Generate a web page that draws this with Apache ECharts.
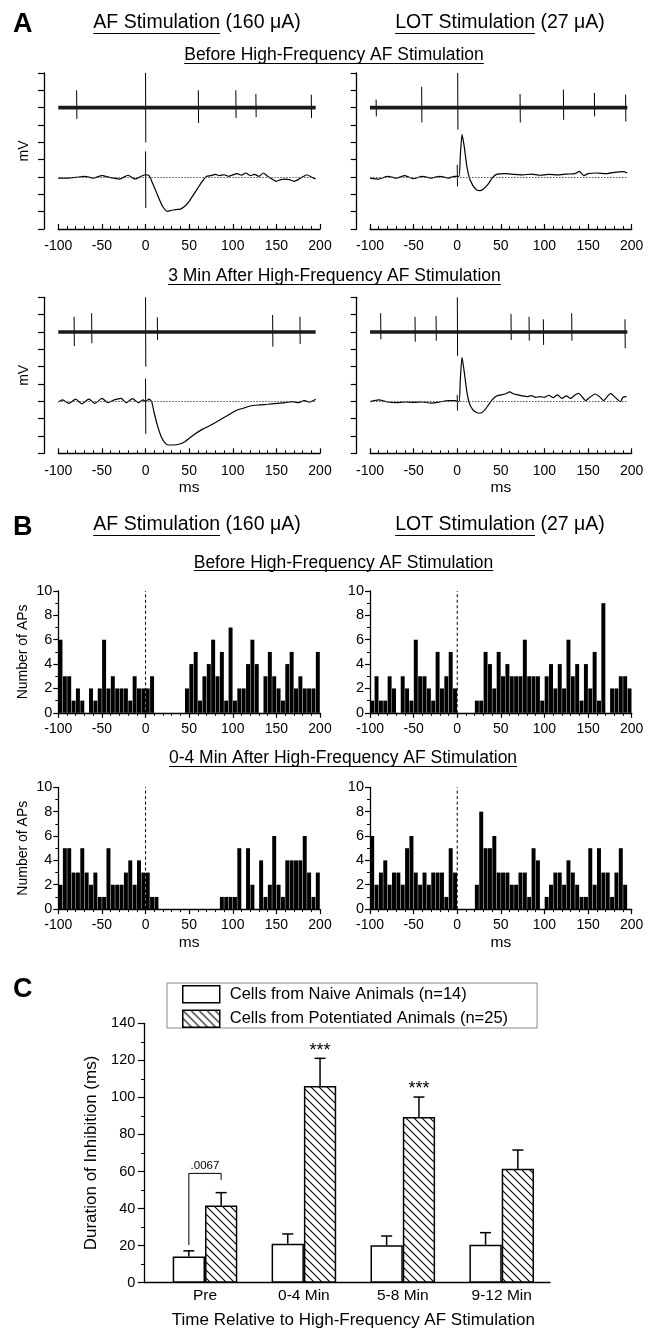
<!DOCTYPE html>
<html>
<head>
<meta charset="utf-8">
<title>Figure</title>
<script src="https://cdn.jsdelivr.net/npm/echarts@6.0.0/dist/echarts.min.js"></script>
<style>
html,body{margin:0;padding:0;background:#fff;}
#chart{width:658px;height:1331px;}
</style>
</head>
<body>
<div id="chart"></div>
<script>
const FONT = '"Liberation Sans", Arial, Helvetica, sans-serif';

// ===== Panel A: traces (time in ms, vertical position in axis tick units) =====
const afBeforeSlow = [[-100,2.94],[-90,2.94],[-80,2.98],[-70,3.04],[-60,2.94],[-50,3.08],[-40,2.96],[-30,2.88],[-20,3.1],[-12,2.88],[-5,3.04],[0,3.13],[4,3.08],[8,2.65],[12,2.17],[16,1.69],[20,1.27],[25,1.02],[30,1.08],[35,1.12],[40,1.15],[45,1.31],[50,1.6],[55,1.98],[60,2.37],[65,2.75],[70,3.04],[75,3.08],[80,3.15],[85,3.08],[90,3.13],[95,3.04],[100,3.12],[105,3.19],[110,3.1],[115,3.23],[120,3.08],[125,3.15],[130,3.04],[135,3.23],[140,3.04],[145,2.88],[150,2.75],[155,2.85],[160,2.88],[165,2.85],[170,2.75],[175,2.85],[180,3.0],[185,3.13],[190,3.0],[195,2.88]];
const lotBeforeSlow = [[-100,2.94],[-90,2.88],[-80,3.04],[-70,2.94],[-60,3.08],[-50,2.9],[-40,3.04],[-30,2.94],[-20,3.04],[-10,2.94],[-3,3.04],[2,3.04],[3.5,4.19],[5.5,5.44],[8,4.77],[11,3.62],[14,2.94],[18,2.5],[22,2.27],[26,2.21],[30,2.31],[35,2.56],[40,2.94],[45,3.15],[55,3.19],[65,3.15],[75,3.12],[85,3.17],[95,3.1],[105,3.15],[115,3.12],[125,3.17],[135,3.19],[140,3.33],[145,3.08],[150,3.19],[160,3.23],[170,3.19],[180,3.27],[190,3.31],[195,3.23]];
const afAfterSlow = [[-100,2.96],[-95,3.08],[-88,2.88],[-80,3.12],[-73,2.85],[-65,3.12],[-58,2.88],[-50,3.17],[-43,2.92],[-36,3.08],[-28,3.17],[-22,2.92],[-15,3.15],[-8,2.92],[-3,3.08],[0,2.98],[4,3.12],[7,2.98],[10,2.31],[14,1.54],[18,0.96],[22,0.62],[26,0.48],[32,0.48],[38,0.52],[45,0.67],[55,1.06],[65,1.38],[75,1.63],[85,1.92],[95,2.21],[105,2.5],[112,2.6],[120,2.73],[130,2.79],[140,2.83],[150,2.88],[160,2.92],[168,2.98],[175,2.92],[182,3.04],[188,2.96],[195,3.12]];
const lotAfterSlow = [[-100,2.98],[-90,3.08],[-80,2.96],[-70,2.92],[-60,2.96],[-50,2.94],[-40,2.96],[-30,2.9],[-20,2.96],[-10,3.04],[-3,3.04],[2,2.98],[3.5,4.23],[5.5,5.54],[8,4.71],[11,3.56],[14,2.88],[18,2.5],[22,2.35],[26,2.31],[30,2.42],[35,2.73],[40,3.08],[45,3.31],[50,3.37],[55,3.42],[60,3.54],[65,3.42],[70,3.37],[75,3.31],[80,3.27],[85,3.33],[90,3.23],[95,3.27],[100,3.23],[105,3.35],[110,3.21],[115,3.37],[120,3.17],[125,3.31],[130,3.17],[135,3.37],[139,3.46],[143,3.27],[147,3.04],[152,3.23],[158,3.42],[163,3.27],[168,3.04],[172,3.27],[176,3.46],[181,3.23],[187,2.98],[190,3.23],[194,3.27]];
// spikes on the fast (upper) trace: [time, peak, trough]
const afBeforeSpikes = [[-79,8.0,6.35],[60.5,8.0,6.12],[103.5,8.0,6.4],[126.5,7.79,6.46],[190,7.75,6.4]];
const lotBeforeSpikes = [[-93,7.46,6.5],[-40.8,8.2,6.15],[72,7.79,6.15],[121.7,8.04,6.3],[157.2,7.85,6.5],[193,7.75,6.2]];
const afAfterSpikes = [[-81.9,7.88,6.19],[-61.8,8.08,6.35],[13.5,7.85,6.54],[145.7,7.98,6.15],[177,7.88,6.31]];
const lotAfterSpikes = [[-87.8,8.08,6.58],[-48.4,7.88,6.44],[-24.3,7.92,6.5],[61.6,8.04,6.54],[82.3,7.88,6.5],[98.7,7.73,6.25],[131.2,8.08,6.5],[192.3,7.73,6.06]];
// stimulus artifacts: [time, top, bottom]
const afBeforeArtifacts = [[0,9.0,5.0],[0,4.48,1.21]];
const lotBeforeArtifacts = [[0.5,9.0,5.73],[0,3.7,2.46]];
const afAfterArtifacts = [[0,9.0,5.0],[0,4.31,1.12]];
const lotAfterArtifacts = [[0.1,9.0,5.62],[0,3.37,2.46]];
const fastTraceLevel = 7;
const slowTraceLevel = 3;
const traceSpan = [-100, 195];

// ===== Panel B: peri-stimulus histograms (5 ms bins from -100 to 200) =====
const binStart = -100;
const binWidth = 5;
const afBeforeCounts = [6,3,3,1,2,1,0,2,1,2,6,2,3,2,2,2,1,3,2,2,2,3,0,0,0,0,0,0,0,2,4,5,1,3,4,6,3,5,1,7,1,2,2,4,6,4,0,3,5,3,2,1,4,5,2,3,2,2,2,5];
const lotBeforeCounts = [1,3,1,1,3,2,0,3,2,1,6,3,3,2,1,5,2,3,5,2,0,0,0,0,1,1,5,4,2,5,3,4,3,3,3,6,3,3,3,1,3,4,2,4,2,6,3,4,1,4,2,5,1,9,0,2,2,3,3,2];
const afAfterCounts = [2,5,5,3,3,5,3,2,3,1,1,5,2,2,2,3,4,2,4,3,3,1,1,0,0,0,0,0,0,0,0,0,0,0,0,0,0,1,1,1,1,5,0,5,2,0,4,1,2,6,2,1,4,4,4,4,6,3,1,3];
const lotAfterCounts = [6,2,3,4,2,3,3,2,5,6,3,2,3,2,3,3,3,1,5,3,0,0,0,0,2,8,5,5,6,3,3,3,2,2,3,3,1,5,4,0,1,2,3,3,2,4,3,2,1,1,5,2,5,3,3,1,3,5,2,0];
const stimMarker = [[0,0],[0,10]];

// ===== Panel C: duration of inhibition =====
const periods = ['Pre','0-4 Min','5-8 Min','9-12 Min'];
const naiveName = 'Cells from Naive Animals (n=14)';
const potName = 'Cells from Potentiated Animals (n=25)';
const naiveMean = [14.2,21.0,20.2,20.5];
const naiveSem = [3.0,5.3,5.0,6.5];
const potMean = [41.7,106.2,89.4,61.5];
const potSem = [6.9,14.9,10.8,10.1];
const potSig = ['','***','***',''];
const bracketLevels = [20.3, 59, 55.4];   // left foot, top, right foot
const bracketText = '.0067';
const bracketTextLevel = 63;

// ===== layout =====
const A_W = 261.7, A_H = 156;
const B_W = 261.7, B_H = 121.8;
const gridsPos = [
  {left:58.3, top:73, width:A_W, height:A_H},
  {left:370, top:73, width:A_W, height:A_H},
  {left:58.3, top:297.3, width:A_W, height:A_H},
  {left:370, top:297.3, width:A_W, height:A_H},
  {left:58.3, top:591, width:B_W, height:B_H},
  {left:370, top:591, width:B_W, height:B_H},
  {left:58.3, top:787.3, width:B_W, height:B_H},
  {left:370, top:787.3, width:B_W, height:B_H},
  {left:155.55, top:1023.3, width:395.6, height:259.4},
  {left:144.3, top:1023.3, width:405.7, height:259.4}
];
const BAR_W = 32.3;
const CAP = 11;

const mctx = document.createElement('canvas').getContext('2d');
function tw(t, size, weight){ mctx.font = (weight || 'normal') + ' ' + size + 'px "Liberation Sans"'; return mctx.measureText(t).width; }

const black = '#000';
const xAxes = [], yAxes = [], series = [];

function timeXAxis(g, inside, margin, showName){
  return {
    gridIndex:g, type:'value', min:-100, max:200, interval:50,
    axisLine:{show:true, onZero:false, lineStyle:{color:black, width:1.3}},
    axisTick:{show:true, inside:inside, length:5, lineStyle:{color:black, width:1.2}},
    minorTick:{show:true, splitNumber:5, length:3, lineStyle:{color:black, width:1}},
    axisLabel:{show:true, color:black, fontSize:14, fontFamily:FONT, margin:margin},
    splitLine:{show:false}, minorSplitLine:{show:false},
    name: showName ? 'ms' : '', nameLocation:'middle', nameGap:26,
    nameTextStyle:{color:black, fontSize:15.5, fontFamily:FONT}
  };
}

// Panel A axes
const aOffsets = [14.3, 13.3, 14.3, 13.3];
for (let g = 0; g < 4; g++) {
  xAxes.push(timeXAxis(g, true, 10.5, g >= 2));
  yAxes.push({
    gridIndex:g, type:'value', min:0, max:9, interval:1, offset:aOffsets[g],
    axisLine:{show:true, onZero:false, lineStyle:{color:black, width:1.3}},
    axisTick:{show:true, length:6, lineStyle:{color:black, width:1.2}},
    axisLabel:{show:false}, splitLine:{show:false},
    name: (g % 2 === 0) ? 'mV' : '', nameLocation:'middle', nameGap:13,
    nameTextStyle:{color:black, fontSize:14, fontFamily:FONT}
  });
}
// Panel B axes
for (let g = 4; g < 8; g++) {
  xAxes.push(timeXAxis(g, false, 9, g >= 6));
  yAxes.push({
    gridIndex:g, type:'value', min:0, max:10, interval:2,
    axisLine:{show:true, onZero:false, lineStyle:{color:black, width:1.3}},
    axisTick:{show:true, length:5, lineStyle:{color:black, width:1.2}},
    minorTick:{show:true, splitNumber:2, length:3, lineStyle:{color:black, width:1}},
    axisLabel:{show:true, color:black, fontSize:14.5, fontFamily:FONT, margin:6},
    splitLine:{show:false}, minorSplitLine:{show:false},
    name: (g % 2 === 0) ? 'Number of APs' : '', nameLocation:'middle', nameGap:28,
    nameTextStyle:{color:black, fontSize:14, fontFamily:FONT}
  });
}
// Panel C axes
xAxes.push({
  gridIndex:8, type:'category', data:periods,
  axisLine:{show:false}, axisTick:{show:false},
  axisLabel:{color:black, fontSize:15.5, fontFamily:FONT, margin:5},
  name:'Time Relative to High-Frequency AF Stimulation', nameLocation:'middle', nameGap:29,
  nameTextStyle:{color:black, fontSize:17, fontFamily:FONT}
});
yAxes.push({
  gridIndex:8, type:'value', min:0, max:140, interval:20, offset:11.25,
  axisLine:{show:true, onZero:false, lineStyle:{color:black, width:1.3}},
  axisTick:{show:true, length:6.5, lineStyle:{color:black, width:1.2}},
  minorTick:{show:true, splitNumber:2, length:3.3, lineStyle:{color:black, width:1}},
  axisLabel:{color:black, fontSize:14.5, fontFamily:FONT, margin:9},
  splitLine:{show:false}, minorSplitLine:{show:false},
  name:'Duration of Inhibition (ms)', nameLocation:'middle', nameGap:44,
  nameTextStyle:{color:black, fontSize:17, fontFamily:FONT}
});
xAxes.push({
  gridIndex:9, type:'value', min:0, max:1,
  axisLine:{show:true, onZero:false, lineStyle:{color:black, width:1.3}},
  axisTick:{show:false}, axisLabel:{show:false}, splitLine:{show:false}
});
yAxes.push({gridIndex:9, type:'value', min:0, max:140, show:false});

// ---- Panel A series ----
function spikeItem(params, api){
  const p1 = api.coord([api.value(0), api.value(1)]);
  const p2 = api.coord([api.value(0) + 0.3, api.value(2)]);
  return {type:'line', shape:{x1:p1[0], y1:p1[1], x2:p2[0], y2:p2[1]}, style:{stroke:black, lineWidth:1}};
}
function addTrace(g, slow, spikes, artifacts){
  series.push({
    type:'line', xAxisIndex:g, yAxisIndex:g, silent:true, animation:false,
    data:[[traceSpan[0], fastTraceLevel],[traceSpan[1], fastTraceLevel]],
    symbol:'none', lineStyle:{color:'#1a1a1a', width:3.6}
  });
  series.push({
    type:'line', xAxisIndex:g, yAxisIndex:g, silent:true, animation:false,
    data:slow, smooth:0.2, symbol:'none', lineStyle:{color:black, width:1.2},
    markLine:{silent:true, animation:false, symbol:['none','none'], label:{show:false},
      lineStyle:{type:[1.5,1.5], color:'#555', width:1},
      data:[[{coord:[traceSpan[0], slowTraceLevel]},{coord:[traceSpan[1], slowTraceLevel]}]]}
  });
  series.push({
    type:'custom', xAxisIndex:g, yAxisIndex:g, silent:true, animation:false, clip:false,
    data:spikes.concat(artifacts), encode:{x:0, y:[1,2]}, renderItem:spikeItem
  });
}
addTrace(0, afBeforeSlow, afBeforeSpikes, afBeforeArtifacts);
addTrace(1, lotBeforeSlow, lotBeforeSpikes, lotBeforeArtifacts);
addTrace(2, afAfterSlow, afAfterSpikes, afAfterArtifacts);
addTrace(3, lotAfterSlow, lotAfterSpikes, lotAfterArtifacts);

// ---- Panel B series ----
function histItem(params, api){
  const c = api.value(1);
  if (!c) return null;
  const x = api.value(0);
  const p0 = api.coord([x - binWidth / 2, 0]);
  const p1 = api.coord([x + binWidth / 2, c]);
  return {type:'rect', shape:{x:p0[0] + 0.2, y:p1[1], width:p1[0] - p0[0] - 0.4, height:p0[1] - p1[1]}, style:{fill:black}};
}
function addHist(g, counts){
  series.push({
    type:'custom', xAxisIndex:g, yAxisIndex:g, silent:true, animation:false,
    data:counts.map((c, i) => [binStart + binWidth * (i + 0.5), c]),
    encode:{x:0, y:1}, renderItem:histItem
  });
  series.push({
    type:'line', xAxisIndex:g, yAxisIndex:g, silent:true, animation:false,
    data:stimMarker, symbol:'none', lineStyle:{type:[3,2.5], color:black, width:1}
  });
}
addHist(4, afBeforeCounts);
addHist(5, lotBeforeCounts);
addHist(6, afAfterCounts);
addHist(7, lotAfterCounts);

// ---- Panel C series ----
function hatch(){
  const s = 8, c = document.createElement('canvas');
  c.width = s; c.height = s;
  const x = c.getContext('2d');
  x.fillStyle = '#fff'; x.fillRect(0,0,s,s);
  x.strokeStyle = '#000'; x.lineWidth = 1.1;
  x.beginPath();
  x.moveTo(-1,-1); x.lineTo(s+1,s+1);
  x.moveTo(s-1,-1); x.lineTo(s+1,1);
  x.moveTo(-1,s-1); x.lineTo(1,s+1);
  x.stroke();
  return c;
}
const hatchPattern = {image: hatch(), repeat:'repeat'};

series.push({
  name:naiveName, type:'bar', xAxisIndex:8, yAxisIndex:8, silent:true, animation:false,
  data:naiveMean, barWidth:BAR_W, barGap:'0%',
  itemStyle:{color:'#fff', borderColor:black, borderWidth:1.5}
});
series.push({
  name:potName, type:'bar', xAxisIndex:8, yAxisIndex:8, silent:true, animation:false,
  data:potMean, barWidth:BAR_W, barGap:'0%',
  itemStyle:{color:hatchPattern, borderColor:black, borderWidth:1.5}
});
const errData = [];
periods.forEach((p, i) => {
  errData.push([i, naiveMean[i], naiveMean[i] + naiveSem[i], -1]);
  errData.push([i, potMean[i], potMean[i] + potSem[i], 1]);
});
series.push({
  type:'custom', xAxisIndex:8, yAxisIndex:8, silent:true, animation:false, clip:false,
  data:errData, encode:{x:0, y:[1,2]},
  renderItem:function(params, api){
    const c0 = api.coord([api.value(0), api.value(1)]);
    const c1 = api.coord([api.value(0), api.value(2)]);
    const x = c0[0] + api.value(3) * BAR_W / 2;
    return {type:'group', children:[
      {type:'line', shape:{x1:x, y1:c0[1], x2:x, y2:c1[1]}, style:{stroke:black, lineWidth:1.5}},
      {type:'line', shape:{x1:x - CAP/2, y1:c1[1], x2:x + CAP/2, y2:c1[1]}, style:{stroke:black, lineWidth:1.5}}
    ]};
  }
});
series.push({
  type:'custom', xAxisIndex:8, yAxisIndex:8, silent:true, animation:false, clip:false,
  data:periods.map((p, i) => [i, potMean[i] + potSem[i]]), encode:{x:0, y:1},
  renderItem:function(params, api){
    const txt = potSig[params.dataIndex];
    if (!txt) return null;
    const c = api.coord([api.value(0), api.value(1) + 4.2]);
    return {type:'text', x:c[0] + BAR_W/2, y:c[1],
      style:{text:txt, font:'18px ' + FONT, fill:black, textAlign:'center', textVerticalAlign:'middle'}};
  }
});
series.push({
  type:'custom', xAxisIndex:8, yAxisIndex:8, silent:true, animation:false, clip:false,
  data:[[0, bracketLevels[0], bracketLevels[1], bracketLevels[2]]], encode:{x:0, y:[1,2,3]},
  renderItem:function(params, api){
    const cat = api.value(0);
    const pl = api.coord([cat, api.value(1)]);
    const pt = api.coord([cat, api.value(2)]);
    const pr = api.coord([cat, api.value(3)]);
    const pLab = api.coord([cat, bracketTextLevel]);
    const xl = pl[0] - BAR_W/2, xr = pl[0] + BAR_W/2;
    return {type:'group', children:[
      {type:'polyline', shape:{points:[[xl, pl[1]],[xl, pt[1]],[xr, pt[1]],[xr, pr[1]]]}, style:{stroke:black, lineWidth:1, fill:null}},
      {type:'text', x:pl[0], y:pLab[1], style:{text:bracketText, font:'11.5px ' + FONT, fill:black, textAlign:'center', textVerticalAlign:'middle'}}
    ]};
  }
});

// ---- free text ----
const graphics = [];
function letter(t, x, y){
  graphics.push({type:'text', x:x, y:y, silent:true, style:{text:t, font:'bold 27px ' + FONT, fill:black, textAlign:'left', textVerticalAlign:'middle'}});
}
function uTitle(full, part, cx, cy, size, uoff){
  const W = tw(full, size), left = cx - W / 2;
  graphics.push({type:'text', x:left, y:cy, silent:true, style:{text:full, font:size + 'px ' + FONT, fill:black, textAlign:'left', textVerticalAlign:'middle'}});
  const uy = Math.round(cy + uoff) + 0.5;
  graphics.push({type:'line', silent:true, shape:{x1:left, y1:uy, x2:left + tw(part, size), y2:uy}, style:{stroke:black, lineWidth:1.1}});
}
const t1 = 'AF Stimulation (160 \u03BCA)', t2 = 'LOT Stimulation (27 \u03BCA)';
const sBefore = 'Before High-Frequency AF Stimulation';
letter('A', 13, 25);
uTitle(t1, 'AF Stimulation', 197, 22.5, 19.5, 10);
uTitle(t2, 'LOT Stimulation', 500, 22.5, 19.5, 10);
uTitle(sBefore, sBefore, 334, 55.5, 17.5, 7);
uTitle('3 Min After High-Frequency AF Stimulation', '3 Min After High-Frequency AF Stimulation', 334.5, 276.5, 17.5, 7);
letter('B', 13, 528);
uTitle(t1, 'AF Stimulation', 197, 525, 19.5, 10);
uTitle(t2, 'LOT Stimulation', 500, 525, 19.5, 10);
uTitle(sBefore, sBefore, 343.5, 563, 17.5, 7);
uTitle('0-4 Min After High-Frequency AF Stimulation', '0-4 Min After High-Frequency AF Stimulation', 343, 758.5, 17.5, 7);
letter('C', 13, 990);

const chart = echarts.init(document.getElementById('chart'), null, {renderer:'canvas'});
chart.setOption({
  animation:false,
  backgroundColor:'#fff',
  textStyle:{fontFamily:FONT, color:black},
  grid:gridsPos.map(p => Object.assign({containLabel:false, outerBoundsMode:'none'}, p)),
  xAxis:xAxes,
  yAxis:yAxes,
  legend:{
    left:167, top:983, orient:'vertical', itemWidth:37, itemHeight:17, itemGap:6,
    padding:[2,29,0,15], borderColor:'#888', borderWidth:1, backgroundColor:'#fff',
    icon:'rect', selectedMode:false,
    itemStyle:{borderColor:black, borderWidth:1.5},
    textStyle:{fontSize:16.5, fontFamily:FONT, color:black, padding:[0,0,0,5]},
    data:[naiveName, potName]
  },
  series:series,
  graphic:graphics
});
</script>
</body>
</html>
